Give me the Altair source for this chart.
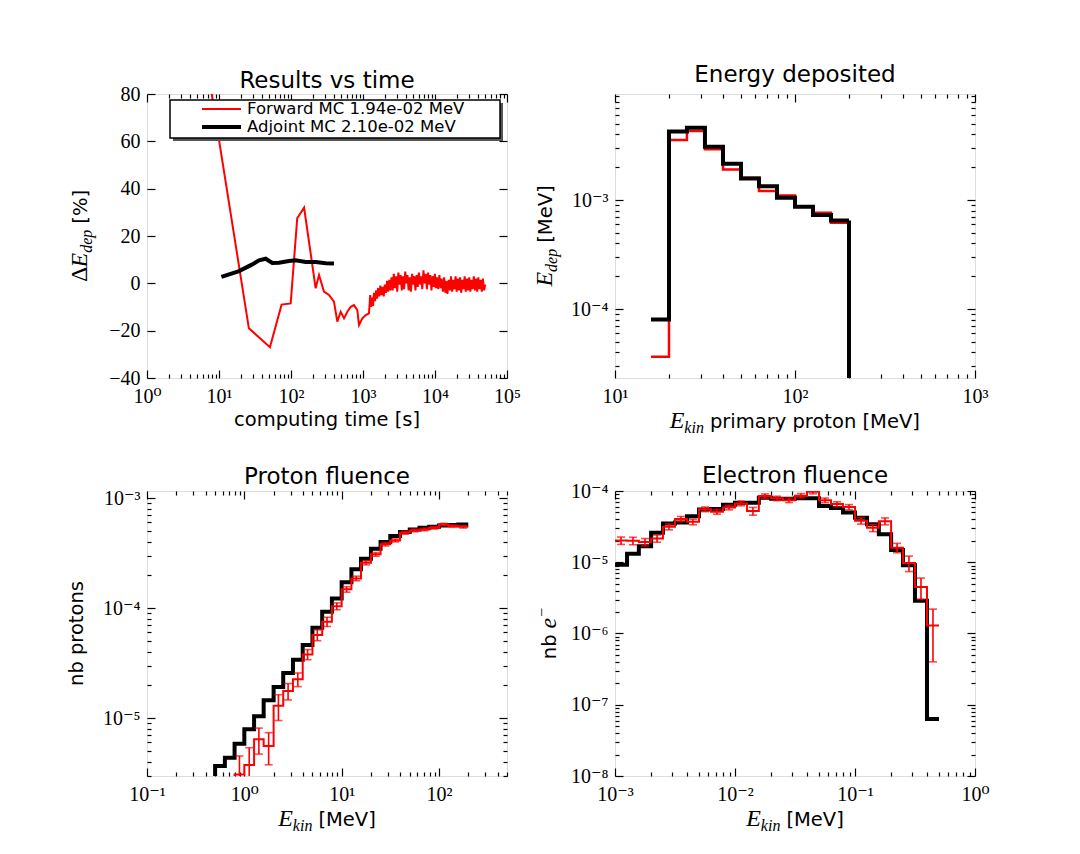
import math
import altair as alt
import pandas as pd

SANS = "DejaVu Sans"
SERIF = "Liberation Serif, DejaVu Serif"
RED = "#ff0000"
BLACK = "#000000"

# ---------------- data ----------------
# Panel 1: Results vs time
fwd_time = [7.2, 26, 51, 74, 99, 122, 152, 220, 245, 287, 337, 395, 440, 490, 545, 606, 675, 750, 834, 880,
            980, 1090, 1211, 1260,
            1300, 1340, 1380, 1420, 1470, 1520, 1570, 1620, 1680, 1740,
            1800, 1870, 1940, 2010, 2080, 2160, 2240, 2320, 2400, 2490,
            2580, 2680, 2780, 2880, 2990, 3100, 3220, 3340, 3460, 3590,
            3720, 3860, 4000, 4150, 4300, 4460, 4630, 4800, 4980, 5160,
            5350, 5550, 5760, 5970, 6190, 6420, 6660, 6910, 7170, 7440,
            7720, 8000, 8300, 8610, 8930, 9260, 9610, 9970, 10300, 10700,
            11100, 11500, 12000, 12400, 12900, 13400, 13900, 14400, 14900, 15500,
            16100, 16700, 17300, 17900, 18600, 19300, 20000, 20700, 21500, 22300,
            23100, 24000, 24900, 25800, 26800, 27800, 28800, 29900, 31000, 32100,
            33300, 34600, 35900, 37200, 38600, 40000, 41500, 43100, 44700, 46300,
            48100, 49900]
fwd_dev = [88, -19, -27, -9, -8.5, 27.5, 32, -2.1, 3.5, -3.5, -4.9, -7.7, -16.2, -12, -14.8, -12, -9.9, -9.2, -11.3, -17.6,
           -14.8, -13.4, -12.7, -5,
           -10, -6, -9.5, -4, -7.5, -3, -6.5, -2, -5.5, -1,
           -5, -1.5, -5.5, -0.5, -4, 1, -3.5, 1.5, -3, 2.5,
           -3, 4, -2, 3, -3.5, 4.5, -0.5, 3.5, -3, 3,
           -2.5, 5, 0, 3.5, -3, 2.5, -3.5, 4, -0.5, 3,
           -3, 3.5, -1.5, 4.5, -0.5, 3, -2.5, 5.5, 0, 4,
           -2.5, 4.5, -0.5, 3.5, -3, 3, -1.5, 4, -2, 2.5,
           -2.5, 3.5, -2, 2, -3.5, 2.5, -4, 1, -4.5, 1.5,
           -3, 3, -3.5, 1.5, -2.5, 3, -3.5, 2, -3, 2.5,
           -4, 1.5, -2.5, 3, -3.5, 2, -3, 2.5, -3.5, 1.5,
           -2.5, 3, -3, 2, -3.5, 2.5, -2.5, 1.5, -3.5, 2,
           -3, -0.5]
adj_time = [10.8, 19, 29, 36, 44.5, 55, 68, 94, 116, 160, 220, 303, 395]
adj_dev = [2.7, 5.2, 8.0, 9.7, 10.4, 8.6, 8.7, 9.4, 9.7, 9.0, 9.0, 8.5, 8.4]
legend_labels = ["Forward MC 1.94e-02 MeV", "Adjoint MC 2.10e-02 MeV"]

# Panel 2: Energy deposited (bin edges and per-bin values)
edep_edges = [15.85, 19.95, 25.1, 31.6, 39.8, 50.1, 63.1, 79.4, 100, 125.9, 158.5, 199.5]
edep_adj = [8.0e-5, 4.25e-3, 4.6e-3, 3.08e-3, 2.15e-3, 1.58e-3, 1.34e-3, 1.05e-3, 8.7e-4, 7.3e-4, 6.5e-4]
edep_fwd = [3.66e-5, 3.55e-3, 4.3e-3, 2.92e-3, 1.91e-3, 1.6e-3, 1.21e-3, 1.1e-3, 8.7e-4, 7.65e-4, 6.2e-4]

# Panel 3: Proton fluence
pf_edges = [0.398, 0.501, 0.631, 0.794, 1.0, 1.26, 1.58, 2.0, 2.51, 3.16, 3.98, 5.01, 6.31, 7.94,
            10, 12.6, 15.8, 20, 25.1, 31.6, 39.8, 50.1, 63.1, 79.4, 100, 126, 158, 200]
pf_adj = [2.0e-6, 3.66e-6, 4.36e-6, 5.85e-6, 7.9e-6, 1.04e-5, 1.45e-5, 1.91e-5, 2.57e-5, 3.39e-5,
          4.61e-5, 6.62e-5, 9.25e-5, 1.22e-4, 1.72e-4, 2.25e-4, 2.81e-4, 3.46e-4, 3.98e-4, 4.52e-4,
          4.91e-4, 5.19e-4, 5.37e-4, 5.49e-4, 5.64e-4, 5.70e-4, 5.75e-4]
pf_fwd = [None, None, 2.0e-6, 3.07e-6, 3.74e-6, 6.4e-6, 5.56e-6, 1.29e-5, 1.76e-5, 2.25e-5,
          3.79e-5, 5.69e-5, 7.52e-5, 1.04e-4, 1.48e-4, 1.86e-4, 2.58e-4, 3.08e-4, 3.8e-4, 4.12e-4,
          4.84e-4, 5.08e-4, 5.19e-4, 5.37e-4, 5.75e-4, 5.56e-4, 5.48e-4]
pf_fwd_err = [None, None, None, 1.45e-6, 1.63e-6, 1.7e-6, 1.8e-6, 3.4e-6, 3.0e-6, 3.2e-6,
              4.0e-6, 6.4e-6, 7.2e-6, 7.5e-6, 8.5e-6, 9e-6, 1.1e-5, 1.2e-5, 1.3e-5, 1.3e-5,
              1.4e-5, 1.4e-5, 1.4e-5, 1.4e-5, 1.4e-5, 1.4e-5, 1.4e-5]

# Panel 4: Electron fluence
ef_edges = [0.001, 0.00126, 0.00158, 0.002, 0.00251, 0.00316, 0.00398, 0.00501, 0.00631, 0.00794,
            0.01, 0.0126, 0.0158, 0.02, 0.0251, 0.0316, 0.0398, 0.0501, 0.0631, 0.0794,
            0.1, 0.126, 0.158, 0.2, 0.251, 0.316, 0.398, 0.501]
ef_adj = [9.2e-6, 1.32e-5, 1.68e-5, 2.6e-5, 3.5e-5, 3.6e-5, 4.43e-5, 5.51e-5, 5.6e-5, 6.4e-5,
          6.85e-5, 6.85e-5, 8.05e-5, 7.8e-5, 7.8e-5, 7.88e-5, 7.88e-5, 6.14e-5, 5.75e-5, 4.98e-5,
          4.2e-5, 3.42e-5, 2.48e-5, 1.48e-5, 9.1e-6, 2.89e-6, 6.3e-8]
ef_fwd = [2.02e-5, 2.0e-5, 1.92e-5, 2.16e-5, 3.15e-5, 4.05e-5, 3.69e-5, 5.55e-5, 5.12e-5, 5.88e-5,
          6.7e-5, 5.23e-5, 8.5e-5, 7.88e-5, 7.43e-5, 8.6e-5, 9.8e-5, 7.4e-5, 6.55e-5, 5.94e-5,
          3.83e-5, 3.04e-5, 3.77e-5, 1.6e-5, 9.8e-6, 4.5e-6, 1.3e-6]
ef_fwd_err = [2.4e-6, 2.4e-6, 2.3e-6, 2.5e-6, 3.0e-6, 3.4e-6, 3.3e-6, 4.2e-6, 4.0e-6, 4.4e-6,
              5.0e-6, 6.5e-6, 6.0e-6, 5.6e-6, 5.6e-6, 6.0e-6, 6.8e-6, 5.6e-6, 5.2e-6, 5.0e-6,
              4.0e-6, 3.5e-6, 4.2e-6, 2.4e-6, 2.4e-6, 1.5e-6, 0.9e-6]

titles = ["Results vs time", "Energy deposited", "Proton fluence", "Electron fluence"]

# ---------------- helpers ----------------
W = 360
H1 = 284
H2 = 285
ONE = pd.DataFrame({"k": [0]})

SUP = "['\u2070','\u00b9','\u00b2','\u00b3','\u2074','\u2075','\u2076','\u2077','\u2078','\u2079']"
LOG_EXPR = ("'10' + (round(log(datum.value)/LN10) < 0 ? '\u207b' : '') + " + SUP +
            "[abs(round(log(datum.value)/LN10))]")
LIN_EXPR = "replace(format(datum.value, 'd'), '-', '\u2212')"


def decades(lo_exp, hi_exp, vmin, vmax):
    out = []
    for e in range(lo_exp, hi_exp + 1):
        for k in range(2, 10):
            v = k * 10 ** e
            if vmin * 0.999 <= v <= vmax * 1.001:
                out.append(v)
    return out


def step_df(edges, vals):
    rows = []
    idx = [i for i, v in enumerate(vals) if v is not None]
    for i in idx:
        rows.append({"x": edges[i], "y": vals[i]})
    last = idx[-1]
    rows.append({"x": edges[last + 1], "y": vals[last]})
    return pd.DataFrame(rows)


def err_df(edges, vals, sig):
    rows = []
    for i, (v, s) in enumerate(zip(vals, sig)):
        if v is None or s is None:
            continue
        rows.append({"x": math.sqrt(edges[i] * edges[i + 1]), "lo": v - s, "hi": v + s})
    return pd.DataFrame(rows)


def lab_axis(orient, values, expr, pad):
    return alt.Axis(orient=orient, values=values, labelExpr=expr, ticks=False, tickSize=0,
                    domain=False, grid=False, labelFont=SERIF, labelFontSize=20,
                    labelColor="black", labelPadding=pad, title=None,
                    labelOverlap=False, labelFlush=False, minExtent=0)


def tick_axis(orient, values, size):
    return alt.Axis(orient=orient, values=values, labels=False, ticks=True, tickSize=size,
                    offset=-size, domain=False, grid=False, title=None,
                    tickColor="black", tickWidth=1.2, minExtent=0)


def axis_layers(df, xf, yf, xs, ys, xmaj, xmin, ymaj, ymin, xexpr, yexpr):
    def lay(xa, ya):
        return alt.Chart(df).mark_point(opacity=0, size=1).encode(
            x=alt.X(xf, type="quantitative", scale=xs, axis=xa),
            y=alt.Y(yf, type="quantitative", scale=ys, axis=ya))
    return [
        lay(lab_axis("bottom", xmaj, xexpr, 8), lab_axis("left", ymaj, yexpr, 7)),
        lay(tick_axis("bottom", xmaj, 8), tick_axis("left", ymaj, 8)),
        lay(tick_axis("top", xmaj, 8), tick_axis("right", ymaj, 8)),
        lay(tick_axis("bottom", xmin, 4), tick_axis("left", ymin, 4) if ymin else None),
        lay(tick_axis("top", xmin, 4), tick_axis("right", ymin, 4) if ymin else None),
    ]


def txt(text, x, y, font=SANS, size=19.5, style="normal", align="left",
        baseline="alphabetic", angle=0, dx=0, dy=0, color="black"):
    return alt.Chart(ONE).mark_text(text=text, font=font, fontSize=size, fontStyle=style,
                                    align=align, baseline=baseline, angle=angle,
                                    dx=dx, dy=dy, color=color).encode(
        x=alt.value(x), y=alt.value(y))


WID = {
    "sans": {" ": 0.318, "[": 0.39, "]": 0.39, "M": 0.863, "e": 0.615, "V": 0.684, "%": 0.95,
             "n": 0.634, "b": 0.635, "p": 0.635, "r": 0.411, "i": 0.278, "m": 0.974,
             "a": 0.613, "y": 0.592, "o": 0.612, "t": 0.392},
    "it": {"E": 0.611, "k": 0.444, "i": 0.278, "n": 0.5, "d": 0.5, "e": 0.444, "p": 0.5},
    "rm": {"\u0394": 0.612, "\u2212": 0.564},
}
FONTS = {"sans": (SANS, "normal"), "it": (SERIF, "italic"), "rm": (SERIF, "normal")}


def seg_w(t, kind, size):
    return sum(WID[kind].get(c, 0.6) for c in t) * size


def math_title(segs, x, y, angle=0):
    total = sum(seg_w(t, k, s) + g for t, k, s, dy, g in segs)
    off = -total / 2
    layers = []
    for t, k, s, dy, g in segs:
        off += g
        font, style = FONTS[k]
        layers.append(txt(t, x, y, font=font, size=s, style=style, angle=angle, dx=off, dy=dy))
        off += seg_w(t, k, s)
    return layers


def panel_title(text, base):
    return txt(text, W / 2, -base, size=23, align="center")


# ---------------- panel 1 ----------------
xs1 = alt.Scale(type="log", domain=[1, 1e5], nice=False)
ys1 = alt.Scale(type="linear", domain=[-40, 80], nice=False, zero=False)
df_fwd = pd.DataFrame({"t": fwd_time, "v": fwd_dev})
df_adj = pd.DataFrame({"t": adj_time, "v": adj_dev})

p1_layers = axis_layers(df_adj, "t", "v", xs1, ys1,
                        [1, 10, 100, 1000, 10000, 100000], decades(0, 4, 1, 1e5),
                        [-40, -20, 0, 20, 40, 60, 80], None, LOG_EXPR, LIN_EXPR)
p1_layers += [
    alt.Chart(df_fwd).mark_line(color=RED, strokeWidth=2, clip=True).encode(
        x=alt.X("t:Q", scale=xs1, axis=None), y=alt.Y("v:Q", scale=ys1, axis=None)),
    alt.Chart(df_adj).mark_line(color=BLACK, strokeWidth=4, clip=True).encode(
        x=alt.X("t:Q", scale=xs1, axis=None), y=alt.Y("v:Q", scale=ys1, axis=None)),
    # legend box with shadow
    alt.Chart(ONE).mark_rect(fill="#555555").encode(
        x=alt.value(26), x2=alt.value(356), y=alt.value(9), y2=alt.value(47)),
    alt.Chart(ONE).mark_rect(fill="white", stroke="black", strokeWidth=1.5).encode(
        x=alt.value(23), x2=alt.value(353), y=alt.value(6), y2=alt.value(44)),
    alt.Chart(ONE).mark_rule(color=RED, strokeWidth=2).encode(
        x=alt.value(55), x2=alt.value(94), y=alt.value(15)),
    alt.Chart(ONE).mark_rule(color=BLACK, strokeWidth=4).encode(
        x=alt.value(55), x2=alt.value(94), y=alt.value(33)),
    txt(legend_labels[0], 100, 15, size=16.5, baseline="middle"),
    txt(legend_labels[1], 100, 33, size=16.5, baseline="middle"),
    txt("computing time [s]", W / 2, H1 + 47.5, align="center"),
    panel_title(titles[0], 6),
]
p1_layers += math_title([("\u0394", "rm", 24, 0, 0), ("E", "it", 24, 0, 0),
                         ("dep", "it", 16, 5, 0), ("[%]", "sans", 19.5, 0, 6)],
                        -60, H1 / 2, angle=270)
p1 = alt.layer(*p1_layers).resolve_axis(x="independent", y="independent").properties(
    width=W, height=H1)

# ---------------- panel 2 ----------------
xs2 = alt.Scale(type="log", domain=[10, 1000], nice=False)
ys2 = alt.Scale(type="log", domain=[2.33e-5, 9.4e-3], nice=False)
d2a = step_df(edep_edges, edep_adj)
d2f = step_df(edep_edges, edep_fwd)
drop_f = pd.DataFrame({"x": [edep_edges[-1]], "y": [edep_fwd[-1]]})
drop_a = pd.DataFrame({"x": [edep_edges[-1]], "y": [edep_adj[-1]]})

p2_layers = axis_layers(d2a, "x", "y", xs2, ys2, [10, 100, 1000], decades(1, 2, 10, 1000),
                        [1e-4, 1e-3], decades(-5, -3, 2.33e-5, 9.4e-3), LOG_EXPR, LOG_EXPR)
p2_layers += [
    alt.Chart(d2f).mark_line(color=RED, strokeWidth=2.5, interpolate="step-after", clip=True).encode(
        x=alt.X("x:Q", scale=xs2, axis=None), y=alt.Y("y:Q", scale=ys2, axis=None)),
    alt.Chart(drop_f).mark_rule(color=RED, strokeWidth=2.5, clip=True).encode(
        x=alt.X("x:Q", scale=xs2, axis=None), y=alt.Y("y:Q", scale=ys2, axis=None),
        y2=alt.value(H1)),
    alt.Chart(d2a).mark_line(color=BLACK, strokeWidth=4, interpolate="step-after", clip=True).encode(
        x=alt.X("x:Q", scale=xs2, axis=None), y=alt.Y("y:Q", scale=ys2, axis=None)),
    alt.Chart(drop_a).mark_rule(color=BLACK, strokeWidth=4, clip=True).encode(
        x=alt.X("x:Q", scale=xs2, axis=None), y=alt.Y("y:Q", scale=ys2, axis=None),
        y2=alt.value(H1)),
    panel_title(titles[1], 12),
]
p2_layers += math_title([("E", "it", 24, 0, 0), ("dep", "it", 16, 5, 0),
                         ("[MeV]", "sans", 19.5, 0, 6)], -63, H1 / 2, angle=270)
p2_layers += math_title([("E", "it", 24, 0, 0), ("kin", "it", 16, 5, 0),
                         ("primary proton [MeV]", "sans", 19.5, 0, 6)], W / 2, H1 + 50)
p2 = alt.layer(*p2_layers).resolve_axis(x="independent", y="independent").properties(
    width=W, height=H1)


# ---------------- panels 3 and 4 ----------------
def fluence_panel(edges, adj, fwd, sig, xs, ys, xmaj, xmin, ymaj, ymin, extra):
    da = step_df(edges, adj)
    dfw = step_df(edges, fwd)
    de = err_df(edges, fwd, sig)
    caps = pd.concat([de[["x", "lo"]].rename(columns={"lo": "y"}),
                      de[["x", "hi"]].rename(columns={"hi": "y"})])
    layers = axis_layers(da, "x", "y", xs, ys, xmaj, xmin, ymaj, ymin, LOG_EXPR, LOG_EXPR)
    layers += [
        alt.Chart(da).mark_line(color=BLACK, strokeWidth=4, interpolate="step-after", clip=True).encode(
            x=alt.X("x:Q", scale=xs, axis=None), y=alt.Y("y:Q", scale=ys, axis=None)),
        alt.Chart(dfw).mark_line(color=RED, strokeWidth=2, interpolate="step-after", clip=True).encode(
            x=alt.X("x:Q", scale=xs, axis=None), y=alt.Y("y:Q", scale=ys, axis=None)),
        alt.Chart(de).mark_rule(color=RED, strokeWidth=1.6, clip=True).encode(
            x=alt.X("x:Q", scale=xs, axis=None), y=alt.Y("lo:Q", scale=ys, axis=None), y2="hi:Q"),
        alt.Chart(caps).mark_tick(color=RED, orient="horizontal", size=8, thickness=1.6,
                                  clip=True).encode(
            x=alt.X("x:Q", scale=xs, axis=None), y=alt.Y("y:Q", scale=ys, axis=None)),
    ]
    layers += extra
    return alt.layer(*layers).resolve_axis(x="independent", y="independent").properties(
        width=W, height=H2)


xs3 = alt.Scale(type="log", domain=[0.1, 500], nice=False)
ys3 = alt.Scale(type="log", domain=[2.97e-6, 1.16e-3], nice=False)
extra3 = [txt("nb protons", -64, H2 / 2, align="center", angle=270), panel_title(titles[2], 7)]
extra3 += math_title([("E", "it", 24, 0, 0), ("kin", "it", 16, 5, 0),
                      ("[MeV]", "sans", 19.5, 0, 6)], W / 2, H2 + 50)
p3 = fluence_panel(pf_edges, pf_adj, pf_fwd, pf_fwd_err, xs3, ys3,
                   [0.1, 1, 10, 100], decades(-1, 2, 0.1, 500),
                   [1e-5, 1e-4, 1e-3], decades(-6, -4, 2.97e-6, 1.16e-3), extra3)

xs4 = alt.Scale(type="log", domain=[1e-3, 1], nice=False)
ys4 = alt.Scale(type="log", domain=[1e-8, 1e-4], nice=False)
extra4 = [panel_title(titles[3], 8)]
extra4 += math_title([("nb", "sans", 19.5, 0, 0), ("e", "it", 24, 0, 6),
                      ("\u2212", "rm", 16, -9, 1)], -59, H2 / 2, angle=270)
extra4 += math_title([("E", "it", 24, 0, 0), ("kin", "it", 16, 5, 0),
                      ("[MeV]", "sans", 19.5, 0, 6)], W / 2, H2 + 50)
p4 = fluence_panel(ef_edges, ef_adj, ef_fwd, ef_fwd_err, xs4, ys4,
                   [1e-3, 1e-2, 1e-1, 1], decades(-3, -1, 1e-3, 1),
                   [1e-8, 1e-7, 1e-6, 1e-5, 1e-4], decades(-8, -5, 1e-8, 1e-4), extra4)

chart = alt.concat(p1, p2, p3, p4, columns=2, spacing={"row": 113, "column": 108},
                   bounds="flush").properties(
    padding={"left": 58, "top": 55, "right": 5, "bottom": 5}
).configure_view(stroke="black", strokeWidth=1.8).configure(font=SANS)

chart.save("out.html", embed_options={"renderer": "svg", "actions": False})
